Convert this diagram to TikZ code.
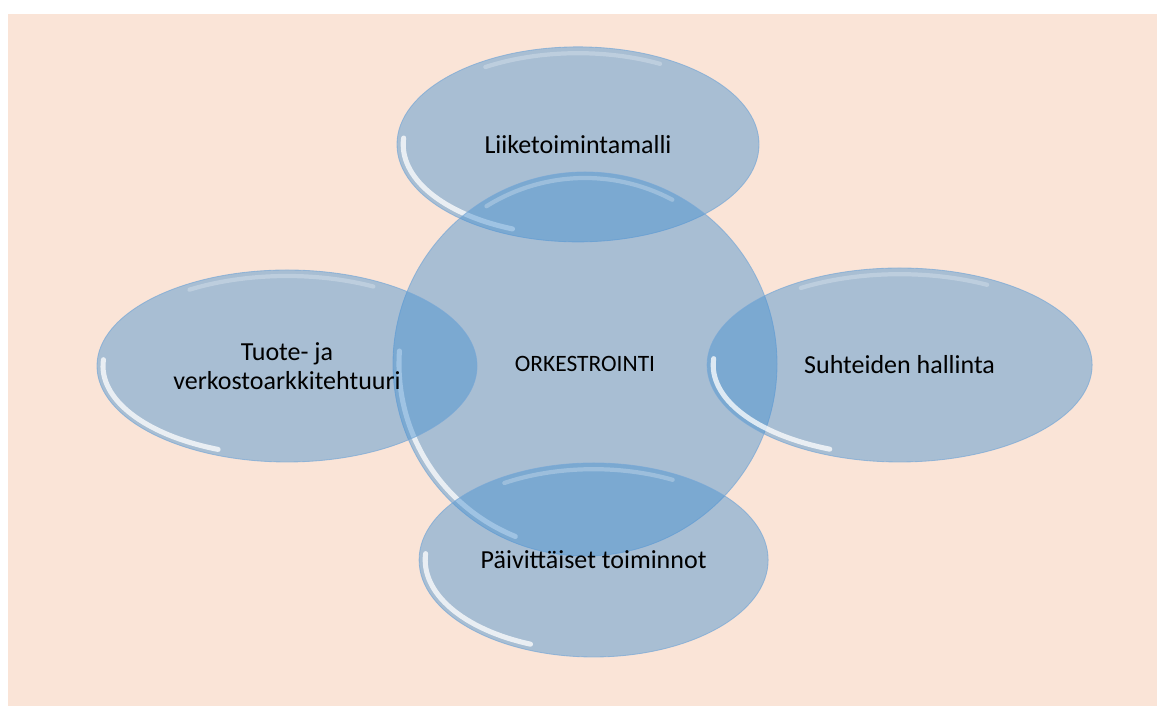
\documentclass[tikz,border=0pt]{standalone}
\usepackage{fontspec}
\setmainfont{Carlito}
\usetikzlibrary{shapes.geometric, positioning}

\definecolor{peach}{RGB}{250,228,215}
\definecolor{glassblue}{RGB}{70,144,208}
\definecolor{rimblue}{RGB}{120,168,214}

\tikzset{
  bubble/.style={ellipse, inner sep=0pt, fill=glassblue, fill opacity=0.45,
    text opacity=1, draw=rimblue, draw opacity=0.7, line width=0.6pt,
    align=center, font=\fontsize{18.5}{20.6}\selectfont},
  glint low/.style={white, opacity=0.75, line width=3.6pt, line cap=round},
  glint top/.style={white, opacity=0.25, line width=3pt, line cap=round},
}

% highlight arcs on a bubble: name, x radius, y radius (inset)
\newcommand{\glint}[3]{%
  \draw[glint low] (#1.center) ++(176:#2 and #3)
    arc[start angle=176, end angle=248, x radius=#2, y radius=#3];
  \draw[glint top] (#1.center) ++(62:#2 and #3)
    arc[start angle=62, end angle=122, x radius=#2, y radius=#3];
}

\begin{document}
\begin{tikzpicture}
  % page background
  \useasboundingbox (0,0) rectangle (28.925,17.65);
  \fill[peach] (0.2,0) rectangle (28.925,17.3);

  % top bubble
  \node[bubble, minimum width=9.05cm, minimum height=4.875cm]
    (model) at (14.45,14.04) {Liiketoimintamalli};
  \glint{model}{4.37}{2.28}

  % central circle
  \node[bubble, minimum width=9.6cm, minimum height=9.6cm,
    font=\fontsize{16.7}{20}\selectfont]
    (orch) at (14.625,8.55) {ORKESTROINTI};
  \glint{orch}{4.65}{4.65}

  % left bubble
  \node[bubble, minimum width=9.5cm, minimum height=4.8cm]
    (arch) at (7.175,8.5) {Tuote- ja\\verkostoarkkitehtuuri};
  \glint{arch}{4.6}{2.25}

  % right bubble
  \node[bubble, minimum width=9.625cm, minimum height=4.85cm]
    (rel) at (22.49,8.525) {Suhteiden hallinta};
  \glint{rel}{4.66}{2.27}

  % bottom bubble
  \node[bubble, minimum width=8.725cm, minimum height=4.85cm]
    (daily) at (14.84,3.65) {Päivittäiset toiminnot};
  \glint{daily}{4.21}{2.27}
\end{tikzpicture}
\end{document}
